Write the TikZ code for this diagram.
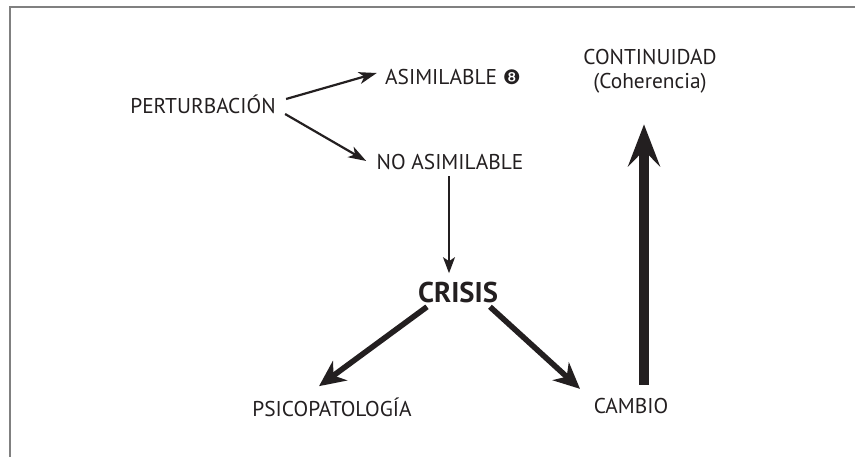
\documentclass[tikz,border=0pt]{standalone}
\usepackage{fontspec}
\setmainfont{PT Sans}
\newfontfamily\dingfont{DejaVu Sans}
\usetikzlibrary{arrows.meta}
\definecolor{ink}{RGB}{35, 31, 32}
\definecolor{frame}{RGB}{128, 128, 128}

\begin{document}
\begin{tikzpicture}[x=0.5pt, y=0.5pt, ink,
    label/.style={inner sep=0pt, font=\fontsize{10.7}{12}\selectfont, text=ink},
    thinarrow/.style={line width=1.1pt, -{Stealth[length=9pt, width=6pt, inset=2.5pt]}},
    midarrow/.style={line width=2.8pt, -{Stealth[length=13pt, width=12pt, inset=4pt]}},
    bigarrow/.style={line width=5pt, -{Stealth[length=21pt, width=16pt, inset=8pt]}}]

  \useasboundingbox (0, 0) rectangle (855, 456);
  \clip (0, 0) rectangle (855, 456);
  \draw[frame, line width=0.7pt] (10, -10) -- (10, 449) -- (870, 449);

  \node[label] (pert) at (203, 352) {PERTURBACIÓN};
  \node[label] (asim) at (453, 379) {ASIMILABLE {\dingfont\fontsize{10}{12}\selectfont ❽}};
  \node[label] (noasim) at (450, 294) {NO ASIMILABLE};
  \node[label, font=\fontsize{14.3}{16}\selectfont\bfseries] (crisis) at (458, 164) {CRISIS};
  \node[label] (psico) at (332, 49) {PSICOPATOLOGÍA};
  \node[label] (cambio) at (631, 50) {CAMBIO};
  \node[label, align=center] (cont) at (650, 385) {CONTINUIDAD\\(Coherencia)};

  \draw[thinarrow] ([shift={(10, 5)}]pert.east) -- ([shift={(-8, 4)}]asim.west);
  \draw[thinarrow] ([shift={(9, -10)}]pert.east) -- ([shift={(-10, 1)}]noasim.west);
  \draw[line width=0.75pt, -{Stealth[length=8pt, width=6pt, inset=2pt]}]
    ([shift={(-1, -6)}]noasim.south) -- ([shift={(-9, 8)}]crisis.north);
  \draw[midarrow] ([shift={(-31, -4)}]crisis.south) -- ([shift={(-13, 11)}]psico.north);
  \draw[midarrow] ([shift={(32, -4)}]crisis.south) -- ([shift={(-51, 9)}]cambio.north);
  \draw[bigarrow] ([shift={(13, 13)}]cambio.north) -- ([shift={(-6, -31)}]cont.south);

\end{tikzpicture}
\end{document}
